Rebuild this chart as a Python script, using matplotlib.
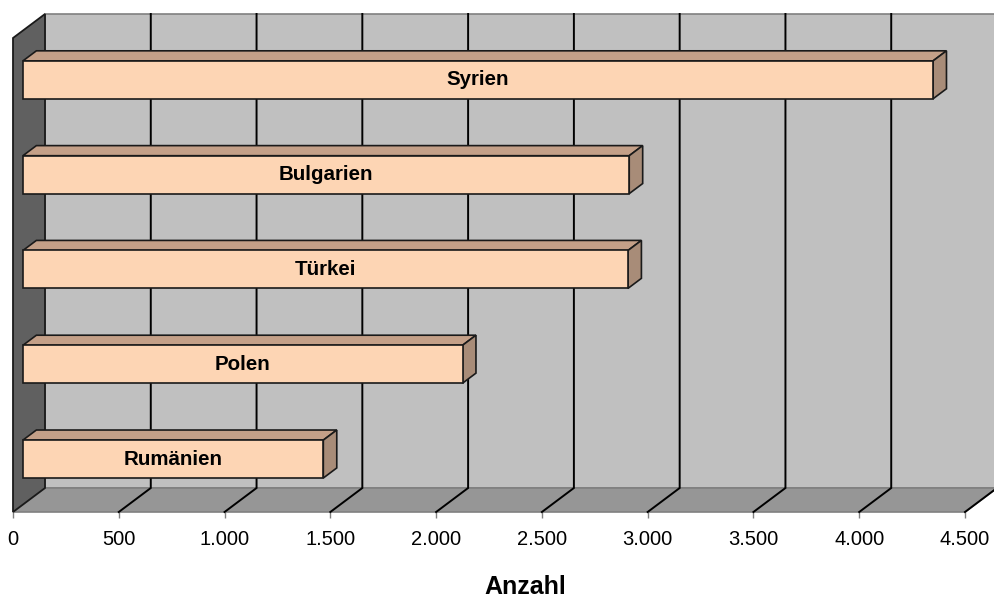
import matplotlib.pyplot as plt
from matplotlib.patches import Polygon

# data (bottom to top)
laender = ["Rumänien", "Polen", "Türkei", "Bulgarien", "Syrien"]
anzahl = [1420, 2078, 2860, 2866, 4302]
x_ticks = [0, 500, 1000, 1500, 2000, 2500, 3000, 3500, 4000, 4500]
x_label = "Anzahl"

plt.rcParams['font.family'] = ['Liberation Sans', 'DejaVu Sans']

W, H = 995, 599
fig = plt.figure(figsize=(W / 100, H / 100), dpi=100)
# front plane of the 3d box in pixels: x 13..965, y 38..512 (from top)
ax = fig.add_axes([13 / W, (H - 512) / H, 952 / W, 474 / H])
ax.set_xlim(0, 4500)
ax.set_ylim(0, len(laender))

# depth offset of the back wall (32 px right, 24 px up) in data units
DX = 32 * 4500 / 952
DY = 24 * len(laender) / 474


def pt(x, y, d):
    return (x + d * DX, y + d * DY)


def poly(points, face, edge, lw, z):
    ax.add_patch(Polygon(points, closed=True, facecolor=face, edgecolor=edge,
                         lw=lw, zorder=z, clip_on=False))


top = len(laender)
# back wall, floor, left wall
poly([pt(0, 0, 1), pt(4500, 0, 1), pt(4500, top, 1), pt(0, top, 1)],
     "#c0c0c0", "#808080", 1.2, 1)
poly([pt(0, 0, 0), pt(4500, 0, 0), pt(4500, 0, 1), pt(0, 0, 1)],
     "#969696", "#808080", 1.2, 2)
poly([pt(0, 0, 0), pt(0, top, 0), pt(0, top, 1), pt(0, 0, 1)],
     "#606060", "#1a1a1a", 1.3, 3)

# grid lines on floor and back wall
for xv in x_ticks[1:]:
    xs, ys = zip(pt(xv, 0, 0), pt(xv, 0, 1), pt(xv, top, 1))
    ax.plot(xs, ys, color="black", lw=1.4, zorder=2.5, clip_on=False,
            solid_joinstyle="miter")

# bars as boxes between depth d0 and d1
d0, d1 = 0.31, 0.73
h = 0.40
shift = -0.02
for i, (name, v) in enumerate(zip(laender, anzahl)):
    yc = i + 0.5 + shift
    poly([pt(0, yc + h / 2, d0), pt(v, yc + h / 2, d0),
          pt(v, yc + h / 2, d1), pt(0, yc + h / 2, d1)],
         "#c4a088", "#1a1a1a", 1.2, 4)
    poly([pt(v, yc - h / 2, d0), pt(v, yc + h / 2, d0),
          pt(v, yc + h / 2, d1), pt(v, yc - h / 2, d1)],
         "#a88c78", "#1a1a1a", 1.2, 4)
ax.barh([i + 0.5 + shift + d0 * DY for i in range(len(laender))], anzahl,
        left=d0 * DX, height=h, color="#fdd5b4", edgecolor="#1a1a1a",
        lw=1.2, zorder=5, clip_on=False)
for i, (name, v) in enumerate(zip(laender, anzahl)):
    ax.text(d0 * DX + v / 2, i + 0.5 + shift + d0 * DY, name, ha="center",
            va="center", fontsize=14.8, fontweight="bold", zorder=6)

ax.set_facecolor("none")
for s in ax.spines.values():
    s.set_visible(False)
ax.set_yticks([])
ax.set_xticks(x_ticks)
ax.set_xticklabels([f"{t:,}".replace(",", ".") for t in x_ticks])
ax.tick_params(axis="x", length=4.5, width=1, color="#808080", pad=8.5,
               labelsize=14.5)

fig.text(525 / W, 1 - 594 / H, x_label, ha="center", va="baseline",
         fontsize=18, fontweight="bold")

fig.savefig("out.png", dpi=100)
